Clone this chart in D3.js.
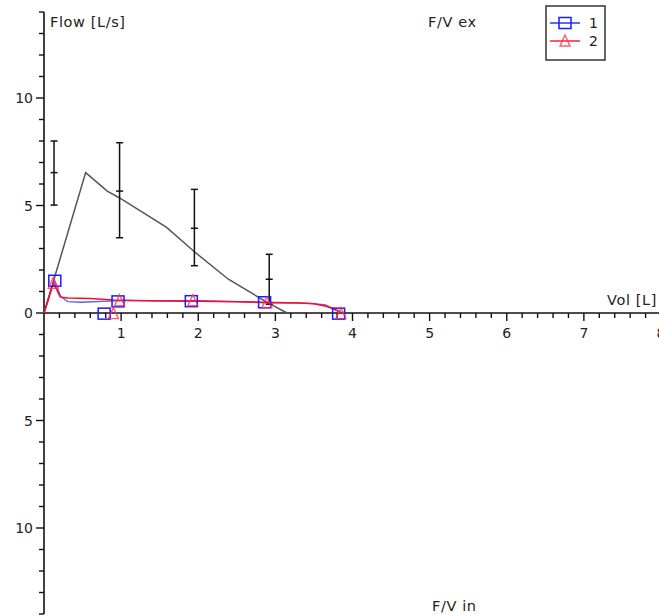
<!DOCTYPE html>
<html><head><meta charset="utf-8">
<script src="https://cdn.jsdelivr.net/npm/d3@7/dist/d3.min.js"></script>
<style>
html,body{margin:0;padding:0;background:#fff;}
svg{display:block;font-family:"DejaVu Sans",Verdana,sans-serif;}
</style></head>
<body>
<svg id="chart" width="659" height="616"></svg>
<script>
// ---- data ----
const xTickValues = [1,2,3,4,5,6,7,8];
const yTickValuesTop = [0,5,10];
const yTickValuesBottom = [5,10];
const legendLabels = ["1","2"];

// predicted (grey) curve
const predVol  = [0, 0.54, 0.82, 0.98, 1.59, 1.95, 2.39, 2.9, 3.15];
const predFlow = [0, 6.53, 5.67, 5.35, 3.98, 2.85, 1.57, 0.48, 0];

// error bars: volume, centre, low, high
const errVol  = [0.13, 0.98, 1.95, 2.92];
const errMid  = [6.53, 5.67, 3.94, 1.57];
const errLow  = [5.02, 3.5, 2.2, 0.41];
const errHigh = [8.0, 7.92, 5.75, 2.73];

// series 1 (blue)
const s1Vol  = [0, 0.05, 0.13, 0.18, 0.22, 0.31, 0.48, 0.83, 1.1, 1.5, 2.0, 2.5, 2.9, 3.3, 3.5, 3.65, 3.75, 3.83, 3.87];
const s1Flow = [0, 0.6, 1.5, 1.1, 0.75, 0.53, 0.5, 0.55, 0.58, 0.58, 0.57, 0.53, 0.5, 0.47, 0.44, 0.38, 0.2, 0.05, 0];
const s1MarkVol  = [0.14, 0.78, 0.96, 1.91, 2.86, 3.82];
const s1MarkFlow = [1.5, -0.03, 0.54, 0.55, 0.5, -0.03];

// series 2 (red)
const s2Vol  = [0, 0.05, 0.12, 0.17, 0.21, 0.31, 0.6, 0.9, 1.5, 2.0, 2.5, 2.9, 3.3, 3.5, 3.64, 3.75, 3.82, 3.9];
const s2Flow = [0, 0.55, 1.4, 1.05, 0.75, 0.7, 0.68, 0.6, 0.56, 0.55, 0.52, 0.48, 0.46, 0.43, 0.33, 0.2, 0.08, -0.05];
const s2MarkVol  = [0.12, 0.9, 0.98, 1.93, 2.89, 3.85];
const s2MarkFlow = [1.38, -0.03, 0.57, 0.57, 0.48, -0.03];

// ---- drawing ----
const svg = d3.select("#chart");
const x = d3.scaleLinear().domain([0, 8]).range([44, 661]);
const y = d3.scaleLinear().domain([-14, 14]).range([614, 12]);
const textCol = "#222";
const fs = "14px";
const tfs = "14.5px";
const tls = "0.6px";

// y axis line
svg.append("line").attr("x1", x(0)).attr("x2", x(0)).attr("y1", y(14)).attr("y2", y(-14))
  .attr("stroke", "#111").attr("stroke-width", 1.6);
d3.range(-14, 15, 1).forEach(v => {
  const major = v % 5 === 0;
  svg.append("line").attr("x1", x(0) - (major ? 8 : 5)).attr("x2", x(0))
    .attr("y1", y(v)).attr("y2", y(v)).attr("stroke", "#111").attr("stroke-width", 1.4);
});
yTickValuesTop.forEach(v => {
  svg.append("text").attr("x", 33).attr("y", y(v)).attr("dy", "0.36em")
    .attr("text-anchor", "end").attr("fill", textCol).style("font-size", fs).text(v);
});
yTickValuesBottom.forEach(v => {
  svg.append("text").attr("x", 33).attr("y", y(-v)).attr("dy", "0.36em")
    .attr("text-anchor", "end").attr("fill", textCol).style("font-size", fs).text(v);
});

// x axis line
svg.append("line").attr("x1", x(0)).attr("x2", 659).attr("y1", y(0)).attr("y2", y(0))
  .attr("stroke", "#111").attr("stroke-width", 1.6);
d3.range(1, 41, 1).forEach(i => {
  const v = i * 0.2;
  const major = i % 5 === 0;
  svg.append("line").attr("x1", x(v)).attr("x2", x(v))
    .attr("y1", y(0)).attr("y2", y(0) + (major ? 8 : 5)).attr("stroke", "#111").attr("stroke-width", 1.4);
});
xTickValues.forEach(v => {
  svg.append("text").attr("x", x(v)).attr("y", 333).attr("dy", "0.36em")
    .attr("text-anchor", "middle").attr("fill", textCol).style("font-size", fs).text(v);
});

// titles
svg.append("text").attr("x", 50).attr("y", 27).attr("fill", textCol).style("font-size", tfs).style("letter-spacing", tls).text("Flow [L/s]");
svg.append("text").attr("x", 428).attr("y", 27).attr("fill", textCol).style("font-size", tfs).style("letter-spacing", tls).text("F/V ex");
svg.append("text").attr("x", 657).attr("y", 305).attr("text-anchor", "end").attr("fill", textCol).style("font-size", tfs).style("letter-spacing", tls).text("Vol [L]");
svg.append("text").attr("x", 432).attr("y", 611).attr("fill", textCol).style("font-size", tfs).style("letter-spacing", tls).text("F/V in");

const line = d3.line().x(d => x(d[0])).y(d => y(d[1]));

svg.append("path").datum(d3.zip(predVol, predFlow)).attr("d", line)
  .attr("fill", "none").attr("stroke", "#555").attr("stroke-width", 1.5);

errVol.forEach((v, i) => {
  const g = svg.append("g").attr("stroke", "#111").attr("stroke-width", 1.5);
  g.append("line").attr("x1", x(v)).attr("x2", x(v)).attr("y1", y(errHigh[i])).attr("y2", y(errLow[i]));
  [errHigh[i], errMid[i], errLow[i]].forEach(val => {
    g.append("line").attr("x1", x(v) - 3.5).attr("x2", x(v) + 3.5).attr("y1", y(val)).attr("y2", y(val));
  });
});

svg.append("path").datum(d3.zip(s1Vol, s1Flow)).attr("d", line)
  .attr("fill", "none").attr("stroke", "#3344ff").attr("stroke-width", 1.3).attr("stroke-opacity", 0.85);
svg.append("path").datum(d3.zip(s2Vol, s2Flow)).attr("d", line)
  .attr("fill", "none").attr("stroke", "#ff0a1e").attr("stroke-width", 1.5);

const sq = 12;
function square(g, cx, cy) {
  g.append("rect").attr("x", cx - sq/2).attr("y", cy - sq/2 + 0.5).attr("width", sq).attr("height", sq - 1)
    .attr("fill", "none").attr("stroke", "#1a1aff").attr("stroke-width", 1.5);
}
function tri(g, cx, cy) {
  const s = 10;
  g.append("path").attr("d", `M${cx},${cy - s/2 - 1}L${cx + s/2},${cy + s/2}L${cx - s/2},${cy + s/2}Z`)
    .attr("fill", "none").attr("stroke", "#ff3050").attr("stroke-width", 1.4).attr("stroke-opacity", 0.8);
}
const mk = svg.append("g");
s1MarkVol.forEach((v, i) => square(mk, x(v), y(s1MarkFlow[i])));
s2MarkVol.forEach((v, i) => tri(mk, x(v), y(s2MarkFlow[i])));

const lg = svg.append("g");
lg.append("rect").attr("x", 546).attr("y", 6).attr("width", 59).attr("height", 54)
  .attr("fill", "#fff").attr("stroke", "#333").attr("stroke-width", 1.5);
const legY = [23, 41];
legendLabels.forEach((lab, i) => {
  const col = i === 0 ? "#2233ff" : "#ff2030";
  lg.append("line").attr("x1", 550).attr("x2", 580).attr("y1", legY[i]).attr("y2", legY[i])
    .attr("stroke", col).attr("stroke-width", 1.5);
  if (i === 0) square(lg, 565, legY[i]); else tri(lg, 565, legY[i]);
  lg.append("text").attr("x", 589).attr("y", legY[i]).attr("dy", "0.36em")
    .attr("fill", textCol).style("font-size", fs).text(lab);
});
</script>
</body></html>
